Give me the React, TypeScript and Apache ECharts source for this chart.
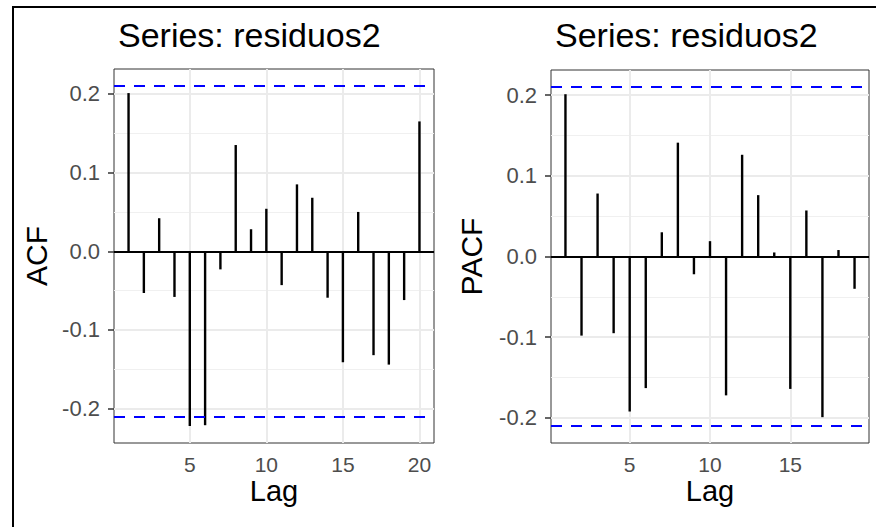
import React, { useEffect, useRef } from "react";
import * as echarts from "echarts";

const titleText = "Series: residuos2";
const acfLags = [1, 2, 3, 4, 5, 6, 7, 8, 9, 10, 11, 12, 13, 14, 15, 16, 17, 18, 19, 20];
const acfValues = [0.201, -0.053, 0.042, -0.058, -0.222, -0.221, -0.023, 0.135, 0.028, 0.054, -0.043, 0.085, 0.068, -0.059, -0.141, 0.05, -0.132, -0.144, -0.062, 0.165];
const pacfLags = [1, 2, 3, 4, 5, 6, 7, 8, 9, 10, 11, 12, 13, 14, 15, 16, 17, 18, 19];
const pacfValues = [0.201, -0.098, 0.078, -0.095, -0.192, -0.163, 0.03, 0.141, -0.022, 0.019, -0.172, 0.126, 0.076, 0.005, -0.164, 0.057, -0.199, 0.008, -0.04];
const ciLimit = 0.21;
const xTicksAcf = [5, 10, 15, 20];
const xTicksPacf = [5, 10, 15];
const yTicks = [-0.2, -0.1, 0, 0.1, 0.2];
const yMinor = [-0.15, -0.05, 0.05, 0.15];

const FONT = "Liberation Sans";

export default function App() {
  const ref = useRef<HTMLDivElement>(null);
  useEffect(() => {
    if (!ref.current) return;
    const chart = echarts.init(ref.current, null, { renderer: "svg" });

    const panels = [
      { left: 114, top: 69, width: 320, height: 374, xmin: 0.05, xmax: 20.95, ymin: -0.2436, ymax: 0.2316, lags: acfLags, vals: acfValues, xt: xTicksAcf, name: "ACF", nameGap: 63 },
      { left: 551, top: 70, width: 318, height: 373, xmin: 0.1, xmax: 19.9, ymin: -0.231, ymax: 0.231, lags: pacfLags, vals: pacfValues, xt: xTicksPacf, name: "PACF", nameGap: 65 },
    ];

    const grid: any[] = [];
    const xAxis: any[] = [];
    const yAxis: any[] = [];
    const series: any[] = [];
    const title: any[] = [];

    panels.forEach((p, i) => {
      grid.push({ left: p.left, top: p.top, width: p.width, height: p.height, show: true, borderColor: "#333333", borderWidth: 1, backgroundColor: "#ffffff", z: 0 });
      title.push({
        text: titleText,
        left: p.left - 1,
        top: 13,
        textStyle: { fontFamily: FONT, fontSize: 34, fontWeight: "normal", color: "#000000" },
      });
      xAxis.push({
        type: "value",
        gridIndex: i,
        min: p.xmin,
        max: p.xmax,
        name: "Lag",
        nameLocation: "middle",
        nameGap: 33,
        nameMoveOverlap: false,
        nameTextStyle: { fontFamily: FONT, fontSize: 29, lineHeight: 29, color: "#000000" },
        axisLine: { show: false },
        splitLine: { show: false },
        axisTick: { show: true, customValues: p.xt, length: 6, lineStyle: { color: "#333333", width: 1.5 } },
        axisLabel: { show: true, customValues: p.xt, margin: 12, lineHeight: 18, fontFamily: FONT, fontSize: 21, color: "#4D4D4D", formatter: (v: number) => String(v) },
      });
      yAxis.push({
        type: "value",
        gridIndex: i,
        min: p.ymin,
        max: p.ymax,
        name: p.name,
        nameLocation: "middle",
        nameGap: p.nameGap,
        nameMoveOverlap: false,
        nameTextStyle: { fontFamily: FONT, fontSize: 30, color: "#000000" },
        axisLine: { show: false },
        splitLine: { show: false },
        axisTick: { show: true, customValues: yTicks, length: 6, lineStyle: { color: "#333333", width: 1.5 } },
        axisLabel: { show: true, customValues: yTicks, margin: 14, fontFamily: FONT, fontSize: 22, color: "#4D4D4D", formatter: (v: number) => v.toFixed(1) },
      });

      const gridLines: any[] = [];
      yMinor.forEach((v) => gridLines.push({ yAxis: v, lineStyle: { color: "#F0F0F0", width: 1, type: "solid" } }));
      yTicks.forEach((v) => gridLines.push({ yAxis: v, lineStyle: { color: "#EBEBEB", width: 2, type: "solid" } }));
      p.xt.forEach((v) => gridLines.push({ xAxis: v, lineStyle: { color: "#EBEBEB", width: 2, type: "solid" } }));

      series.push({
        type: "line",
        xAxisIndex: i,
        yAxisIndex: i,
        data: [],
        z: 1,
        silent: true,
        markLine: { z: 1, silent: true, symbol: ["none", "none"], label: { show: false }, animation: false, data: gridLines },
      });
      series.push({
        type: "bar",
        xAxisIndex: i,
        yAxisIndex: i,
        barWidth: 2.4,
        itemStyle: { color: "#000000" },
        z: 3,
        data: p.lags.map((l, k) => [l, p.vals[k]]),
      });
      series.push({
        type: "line",
        xAxisIndex: i,
        yAxisIndex: i,
        data: [],
        z: 6,
        silent: true,
        markLine: {
          z: 6,
          silent: true,
          symbol: ["none", "none"],
          label: { show: false },
          animation: false,
          data: [
            { yAxis: 0, lineStyle: { color: "#000000", width: 2, type: "solid" } },
            { yAxis: ciLimit, lineStyle: { color: "#0000FF", width: 2, type: [11, 9] } },
            { yAxis: -ciLimit, lineStyle: { color: "#0000FF", width: 2, type: [11, 9] } },
          ],
        },
      });
    });

    chart.setOption({
      animation: false,
      backgroundColor: "#ffffff",
      title,
      grid,
      xAxis,
      yAxis,
      series,
      graphic: [
        {
          type: "polyline",
          shape: { points: [[13, 527], [13, 7], [876, 7]] },
          style: { stroke: "#000000", lineWidth: 2, fill: null },
          z: 10,
        },
      ],
    });
    return () => chart.dispose();
  }, []);
  return (
    <div
      ref={ref}
      style={{ position: "fixed", left: 0, top: 0, width: 876, height: 527, background: "#ffffff" }}
    />
  );
}
